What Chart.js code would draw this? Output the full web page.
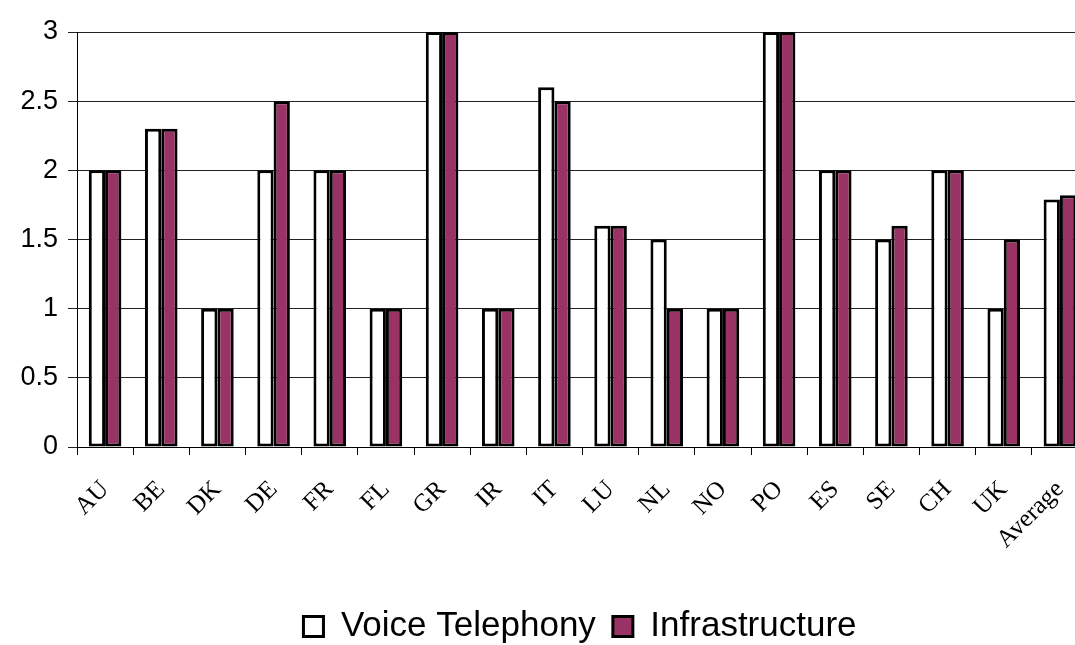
<!DOCTYPE html>
<html>
<head>
<meta charset="utf-8">
<script src="https://cdn.jsdelivr.net/npm/chart.js@4"></script>
<style>
  html, body { margin: 0; padding: 0; background: #fff; overflow: hidden; }
  #wrap { position: absolute; left: 0; top: 0; width: 1160px; height: 645px; }
</style>
</head>
<body>
<div id="wrap"><canvas id="scoreChart" width="1160" height="645"></canvas></div>
<script>
// countries along the x axis
const countries = ["AU", "BE", "DK", "DE", "FR", "FL", "GR", "IR", "IT", "LU",
  "NL", "NO", "PO", "ES", "SE", "CH", "UK", "Average"];

// scores
const voiceTelephony = [2, 2.3, 1, 2, 2, 1, 3, 1, 2.6, 1.6, 1.5, 1, 3, 2, 1.5, 2, 1, 1.79];
const infrastructure = [2, 2.3, 1, 2.5, 2, 1, 3, 1, 2.5, 1.6, 1, 1, 3, 2, 1.6, 2, 1.5, 1.82];

const yTicks = [0, 0.5, 1, 1.5, 2, 2.5, 3];

// the plot runs past the right edge of the window, so centre the legend on the whole canvas
const centreLegend = {
  id: "centreLegend",
  afterLayout(chart) {
    const shift = chart.options.layout.padding.right / 2;
    chart.legend.left += shift;
    chart.legend.right += shift;
  }
};

const ctx = document.getElementById("scoreChart");

new Chart(ctx, {
  type: "bar",
  data: {
    labels: countries,
    datasets: [
      {
        label: "Voice Telephony",
        data: voiceTelephony,
        backgroundColor: "#ffffff",
        borderColor: "#000000",
        borderWidth: 3,
        borderSkipped: false
      },
      {
        label: "Infrastructure",
        data: infrastructure,
        backgroundColor: "#993366",
        borderColor: "#000000",
        borderWidth: 3,
        borderSkipped: false
      }
    ]
  },
  plugins: [centreLegend],
  options: {
    responsive: false,
    animation: false,
    events: [],
    layout: { padding: { top: 32, right: 72, bottom: -9, left: 0 } },
    datasets: {
      bar: { categoryPercentage: 0.58, barPercentage: 1.0 }
    },
    plugins: {
      tooltip: { enabled: false },
      legend: {
        position: "bottom",
        labels: {
          color: "#000",
          boxWidth: 20,
          boxHeight: 20,
          padding: 17,
          font: { family: "'Liberation Sans', Arial, sans-serif", size: 35, lineHeight: 0.8 }
        }
      }
    },
    scales: {
      x: {
        afterFit: (scale) => { scale.height = 145; },
        border: { color: "#000", width: 1 },
        grid: { drawOnChartArea: false, tickLength: 8, color: "#000", offset: true },
        ticks: {
          color: "#000",
          minRotation: 45,
          maxRotation: 45,
          padding: 20,
          autoSkip: false,
          font: { family: "'Liberation Serif', 'Times New Roman', serif", size: 25 }
        }
      },
      y: {
        min: 0,
        max: 3,
        afterFit: (scale) => { scale.width = 77; },
        afterBuildTicks: (scale) => { scale.ticks = yTicks.map((v) => ({ value: v })); },
        border: { color: "#000", width: 1 },
        grid: { color: "#222", lineWidth: 1, tickLength: 9 },
        ticks: {
          color: "#000",
          padding: 10,
          callback: (v) => String(v),
          font: { family: "'Liberation Sans', Arial, sans-serif", size: 27 }
        }
      }
    }
  }
});
</script>
</body>
</html>
